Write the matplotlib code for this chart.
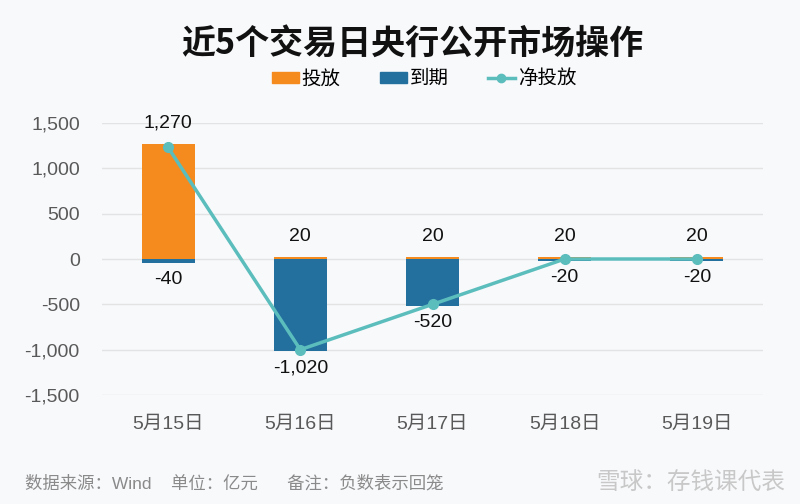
import matplotlib
matplotlib.use("Agg")
import matplotlib.pyplot as plt
from matplotlib.lines import Line2D
from matplotlib.patches import Patch
import numpy as np

plt.rcParams['font.family'] = ['Liberation Sans', 'Noto Sans CJK SC', 'DejaVu Sans']

dates = ["5月15日", "5月16日", "5月17日", "5月18日", "5月19日"]
injection = [1270, 20, 20, 20, 20]
maturity = [-40, -1020, -520, -20, -20]
net = [1230, -1000, -500, 0, 0]
yticks = [-1500, -1000, -500, 0, 500, 1000, 1500]

c_orange = "#F58A1F"
c_blue = "#23709E"
c_teal = "#5CBDBD"
bg = "#F8F9FB"

fig = plt.figure(figsize=(8, 5.04), dpi=100, facecolor=bg)
ax = fig.add_axes([102/800, 1-395/504, (763-102)/800, (395-123)/504], facecolor=bg)

x = np.arange(len(dates))
w = 0.4
ax.bar(x, injection, width=w, color=c_orange, zorder=2)
ax.bar(x, maturity, width=w, color=c_blue, zorder=2)
ax.plot(x, net, color=c_teal, lw=2.5, marker='o', markersize=7, zorder=3, clip_on=False)

for xi, v in zip(x, injection):
    ax.annotate(f"{v:,}", (xi, v), xytext=(0, 15), textcoords='offset points',
                ha='center', va='center', fontsize=14, color='#111111', zorder=4)
for xi, v in zip(x, maturity):
    ax.annotate(f"{v:,}", (xi, v), xytext=(0, -12), textcoords='offset points',
                ha='center', va='center', fontsize=14, color='#111111', zorder=4)

ax.set_xlim(-0.5, len(dates) - 0.5)
ax.set_ylim(-1500, 1500)
ax.set_yticks(yticks)
ax.set_yticklabels([f"{t:,}" for t in yticks], fontsize=14, color='#595959')
ax.set_xticks(x)
ax.set_xticklabels(dates, fontsize=14, color='#595959')
ax.tick_params(axis='both', length=0)
ax.tick_params(axis='y', pad=16)
ax.tick_params(axis='x', pad=15)
ax.grid(axis='y', color='#E3E3E3', lw=1, zorder=0)
for s in ax.spines.values():
    s.set_visible(False)

fig.text(0.515, 1-43/504, "近5个交易日央行公开市场操作", ha='center', va='center',
         fontsize=24.5, fontweight='bold', color='#111111',
         family=['Noto Sans CJK SC', 'DejaVu Sans'])

handles = [Patch(color=c_orange), Patch(color=c_blue),
           Line2D([0], [0], color=c_teal, lw=2.5, marker='o', markersize=6)]
fig.legend(handles, ["投放", "到期", "净投放"], loc='center', bbox_to_anchor=(0.53, 1-79/504),
           ncol=3, frameon=False, fontsize=14, handlelength=1.4, handleheight=0.55,
           columnspacing=2.0, handletextpad=0.15)

fig.text(25/800, 1-483/504, "数据来源：Wind    单位：亿元      备注：负数表示回笼",
         ha='left', va='center', fontsize=12.5, color='#8A8A8A')
fig.text(785/800, 1-483/504, "雪球：存钱课代表", ha='right', va='center',
         fontsize=17, color='#C8C8C8')

fig.savefig("out.png", dpi=100, facecolor=bg)
